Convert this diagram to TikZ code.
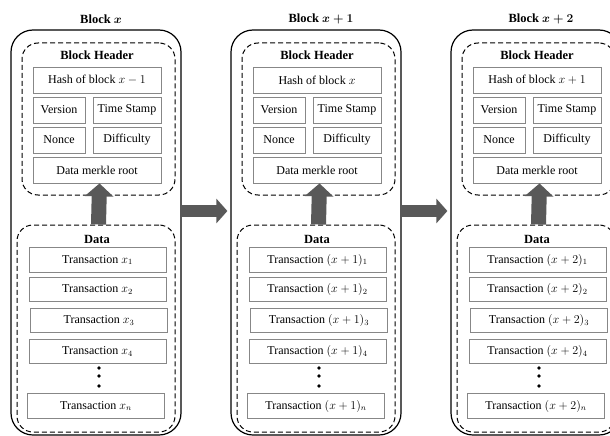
\documentclass[tikz,border=0pt]{standalone}
\usepackage{fontspec}
\setmainfont{Liberation Serif}
\usetikzlibrary{arrows.meta}
\definecolor{boxgray}{RGB}{135,135,135}
\definecolor{arrowgray}{RGB}{89,89,89}

\begin{document}
\begin{tikzpicture}[x=1pt,y=-1pt,every node/.style={font=\fontsize{12}{14}\selectfont,inner sep=0pt},
  block/.style={draw,line width=1.2pt,rounded corners=22pt,minimum width=170pt,minimum height=405pt},
  group/.style={draw,line width=1pt,dash pattern=on 5pt off 3pt,rounded corners=16pt},
  field/.style={draw=boxgray,line width=.8pt,minimum height=26pt},
  txbox/.style={draw=boxgray,line width=.8pt,minimum width=137pt,minimum height=24.5pt},
  heading/.style={font=\fontsize{12.5}{14}\selectfont\bfseries\boldmath},
  link/.style={-{Triangle[length=13pt,width=28pt]},line width=15pt,draw=arrowgray},
  chain/.style={-{Triangle[length=11pt,width=24pt]},line width=12pt,draw=arrowgray,shorten >=3pt}]
\clip (0,0) rectangle (610,436);
\foreach \i/\blk/\prev/\tx in {0/{x}/{x-1}/{x},1/{x+1}/{x}/{(x+1)},2/{x+2}/{x+1}/{(x+2)}}{
  \pgfmathsetmacro\cx{97+220*\i}
  % block frame and title
  \node[block] (b\i block) at (\cx-1,232.5) {};
  \node[heading] (b\i title) at (\cx+4,19) {Block $\blk$};
  % header
  \node[group,minimum width=153pt,minimum height=152pt] (b\i head) at (\cx+1.5,119) {};
  \node[heading] (b\i headtitle) at (\cx,55) {Block Header};
  \node[field,minimum width=128pt] (b\i hash) at (\cx,80) {Hash of block $\prev$};
  \node[field,minimum width=52pt] (b\i ver) at (\cx-38,110) {Version};
  \node[field,minimum width=68pt] (b\i time) at (\cx+30,110) {Time Stamp};
  \node[field,minimum width=52pt] (b\i nonce) at (\cx-38,140) {Nonce};
  \node[field,minimum width=68pt] (b\i diff) at (\cx+30,140) {Difficulty};
  \node[field,minimum width=128pt] (b\i root) at (\cx,170) {Data merkle root};
  % data
  \node[group,minimum width=158pt,minimum height=207pt] (b\i data) at (\cx-1,328.5) {};
  \node[heading] (b\i datatitle) at (\cx,239) {Data};
  \node[txbox] (b\i tx1) at (\cx+.5,260) {Transaction $\tx_1$};
  \node[txbox] (b\i tx2) at (\cx+.5,289.5) {Transaction $\tx_2$};
  \node[txbox] (b\i tx3) at (\cx+2,320.5) {Transaction $\tx_3$};
  \node[txbox] (b\i tx4) at (\cx+.5,351.5) {Transaction $\tx_4$};
  \foreach \d in {368,376,386}
    \fill (\cx+2,\d) circle (1.8pt);
  \node[txbox] (b\i txn) at (\cx-1,406) {Transaction $\tx_n$};
  \draw[link] ([xshift=2.5pt]b\i data.north) -- ([xshift=2.5pt]b\i root.south);
  \coordinate (b\i gap) at (\cx,211);
}
\draw[chain] (b0block.east |- b0gap) -- (b1block.west |- b0gap);
\draw[chain] (b1block.east |- b1gap) -- (b2block.west |- b1gap);
\end{tikzpicture}
\end{document}
